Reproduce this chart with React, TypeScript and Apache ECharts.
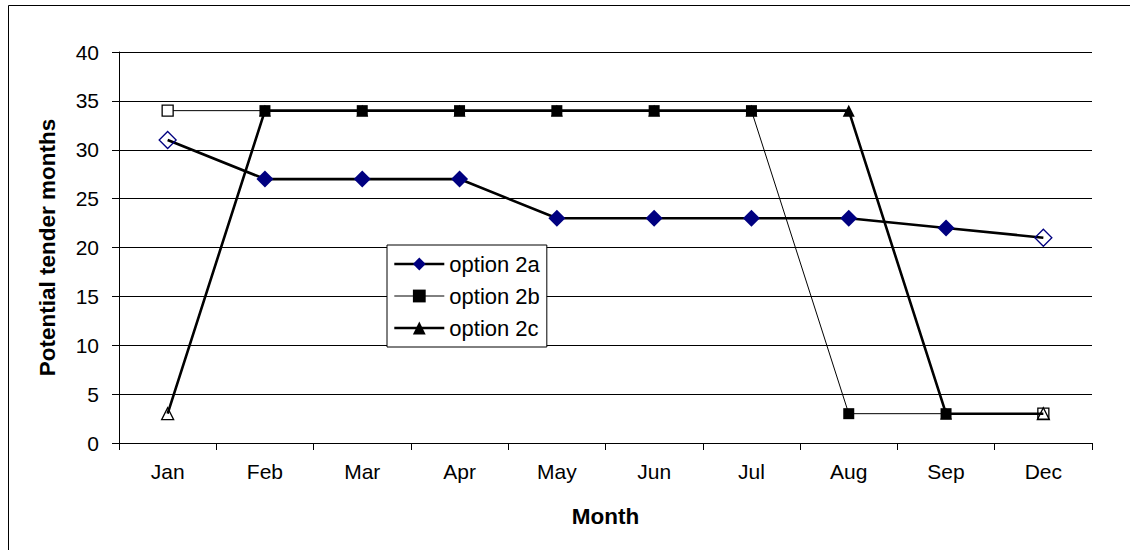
import React, { useEffect, useRef } from "react";
import * as echarts from "echarts";

const months = ["Jan", "Feb", "Mar", "Apr", "May", "Jun", "Jul", "Aug", "Sep", "Dec"];
const option2a = [31, 27, 27, 27, 23, 23, 23, 23, 22, 21];
const option2b = [34, 34, 34, 34, 34, 34, 34, 3, 3, 3];
const option2c = [3, 34, 34, 34, 34, 34, 34, 34, 3, 3];
const yMin = 0;
const yMax = 40;
const yStep = 5;

const FONT = "'Liberation Sans', Arial, sans-serif";

function withHollowEnds(values: number[], color: string, fill: string) {
  return values.map((v, i) =>
    i === 0 || i === values.length - 1
      ? { value: v, itemStyle: { color: fill, borderColor: color, borderWidth: 1.3 } }
      : v
  );
}

export default function App() {
  const ref = useRef<HTMLDivElement>(null);
  useEffect(() => {
    if (!ref.current) return;
    const chart = echarts.init(ref.current, undefined, { renderer: "svg" });
    chart.setOption({
      animation: false,
      backgroundColor: "#fff",
      textStyle: { fontFamily: FONT, color: "#000" },
      graphic: [
        {
          type: "rect",
          shape: { x: 8.5, y: 5.5, width: 1200, height: 600 },
          style: { fill: "none", stroke: "#000", lineWidth: 1 },
          z: -1,
        },
      ],
      grid: { left: 119, right: 38, top: 52, bottom: 107 },
      legend: {
        orient: "vertical",
        left: 387,
        top: 245,
        padding: [7, 7, 7, 6],
        itemWidth: 50,
        itemHeight: 16,
        itemGap: 8,
        backgroundColor: "#fff",
        borderColor: "#000",
        borderWidth: 1,
        borderRadius: 0,
        textStyle: { fontFamily: FONT, fontSize: 22, color: "#000", lineHeight: 24 },
        data: [
          { name: "option 2a", lineStyle: { width: 2.6, color: "#000" } },
          { name: "option 2b", lineStyle: { width: 1, color: "#000" } },
          { name: "option 2c", lineStyle: { width: 2.6, color: "#000" } },
        ],
      },
      xAxis: {
        type: "category",
        data: months,
        boundaryGap: true,
        name: "Month",
        nameLocation: "middle",
        nameGap: 62,
        nameTextStyle: { fontFamily: FONT, fontSize: 22.5, fontWeight: "bold", color: "#000" },
        axisLine: { lineStyle: { color: "#000", width: 1 } },
        axisTick: { show: true, length: 7, inside: false, lineStyle: { color: "#000" } },
        axisLabel: { fontFamily: FONT, fontSize: 21, color: "#000", margin: 18 },
        splitLine: { show: false },
      },
      yAxis: {
        type: "value",
        min: yMin,
        max: yMax,
        interval: yStep,
        name: "Potential tender months",
        nameLocation: "middle",
        nameGap: 60,
        nameTextStyle: { fontFamily: FONT, fontSize: 22.5, fontWeight: "bold", color: "#000" },
        axisLine: { show: true, lineStyle: { color: "#000", width: 1 } },
        axisTick: { show: true, length: 7, lineStyle: { color: "#000" } },
        axisLabel: { fontFamily: FONT, fontSize: 21, color: "#000", margin: 20 },
        splitLine: { show: true, lineStyle: { color: "#000", width: 1 } },
      },
      series: [
        {
          name: "option 2a",
          type: "line",
          data: withHollowEnds(option2a, "#000080", "transparent"),
          symbol: "diamond",
          symbolSize: 17,
          itemStyle: { color: "#000080" },
          lineStyle: { color: "#000", width: 2.6 },
          z: 2,
        },
        {
          name: "option 2b",
          type: "line",
          data: withHollowEnds(option2b, "#000", "#fff"),
          symbol: "rect",
          symbolSize: 11,
          itemStyle: { color: "#000" },
          lineStyle: { color: "#000", width: 1 },
          z: 3,
        },
        {
          name: "option 2c",
          type: "line",
          data: withHollowEnds(option2c, "#000", "transparent"),
          symbol: "triangle",
          symbolSize: 12,
          itemStyle: { color: "#000" },
          lineStyle: { color: "#000", width: 2.6 },
          z: 4,
        },
      ],
    });
    return () => chart.dispose();
  }, []);
  return (
    <div
      ref={ref}
      style={{ position: "absolute", left: 0, top: 0, width: 1130, height: 550 }}
    />
  );
}
